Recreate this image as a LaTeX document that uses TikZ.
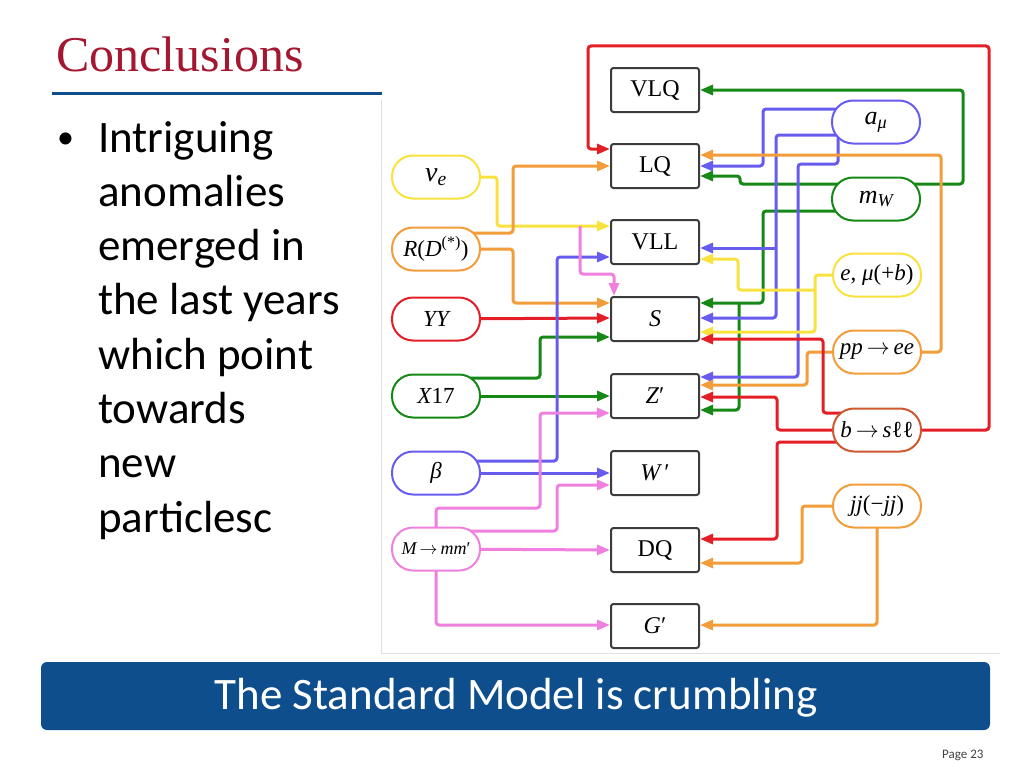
\RequirePackage{fix-cm}
\documentclass[tikz,border=0pt]{standalone}
\usepackage[no-math]{fontspec}
\setmainfont{Carlito}
\newfontfamily\tfont{Liberation Serif}
\newcommand\mi[1]{{\itshape #1}}
\newcommand\arrw{\,$\rightarrow$\,}
\usetikzlibrary{arrows.meta}
\definecolor{titlered}{RGB}{163,24,48}
\definecolor{ulblue}{RGB}{16,76,140}
\definecolor{bannerblue}{RGB}{14,78,140}
\definecolor{boxgray}{RGB}{60,60,60}
\definecolor{cR}{RGB}{228,30,38}
\definecolor{cO}{RGB}{242,156,58}
\definecolor{cY}{RGB}{249,226,62}
\definecolor{cG}{RGB}{22,136,22}
\definecolor{cB}{RGB}{104,92,238}
\definecolor{cP}{RGB}{240,128,222}
\definecolor{cBS}{RGB}{206,88,48}
\pgfdeclarelayer{bg}
\pgfsetlayers{bg,main}
\begin{document}
\begin{tikzpicture}[x=1pt,y=-1pt,
  box/.style={draw=boxgray, line width=2pt, rounded corners=2.5pt, fill=white, minimum width=88pt, minimum height=44pt, inner sep=0pt, font=\tfont\fontsize{24}{24}\selectfont},
  pill/.style={draw=#1, line width=2pt, rounded corners=21pt, fill=white, minimum width=88pt, minimum height=43pt, inner sep=0pt, font=\tfont\fontsize{23}{23}\selectfont},
  wire/.style={draw=#1, line width=3pt, rounded corners=3pt},
  arr/.style={-{Triangle[length=13pt,width=10pt]}},
]
\useasboundingbox (0,0) rectangle (1024,768);

% title and text
\node[anchor=base west, inner sep=0pt, text=titlered, font=\tfont\fontsize{50}{50}\selectfont] (title) at (56,71) {Conclusions};
\draw[ulblue, line width=3pt] (52,93) -- (382,93);
\node[anchor=base west, inner sep=0pt, font=\fontsize{34}{34}\selectfont] (bul) at (57,148) {•};
\foreach \t [count=\i from 0] in {Intriguing, anomalies, emerged in, the last years, which point, towards, new, particlesc}
  \node[anchor=base west, inner sep=0pt, font=\fontsize{45}{45}\selectfont] (b\i) at (98,{152+54.3*\i}) {\t};

% faint frame of the figure
\draw[black!12, line width=1pt] (381,100) -- (381,653) -- (1000,653);

% center boxes
\node[box] (VLQ) at (655,90) {VLQ};
\node[box] (LQ) at (655,166) {LQ};
\node[box] (VLL) at (655,242) {VLL};
\node[box] (S) at (655,319) {\mi{S}};
\node[box] (Zp) at (655,396) {\mi{Z}′};
\node[box] (Wp) at (655,473) {\mi{W}\,′};
\node[box] (DQ) at (655,550) {DQ};
\node[box] (Gp) at (655,626) {\mi{G}′};

% left pills
\node[pill=cY, font=\tfont\fontsize{28}{28}\selectfont] (nue) at (436,177) {\mi{ν}\textsubscript{\mi{e}}};
\node[pill=cO] (RD) at (436,249) {\mi{R}(\mi{D}\textsuperscript{(*)})};
\node[pill=cR] (YY) at (436,319) {\mi{YY}};
\node[pill=cG] (X17) at (436,396) {\mi{X}17};
\node[pill=cB] (beta) at (436,473) {\mi{β}};
\node[pill=cP, font=\tfont\fontsize{18}{18}\selectfont] (Mmm) at (436,549) {\mi{M}\arrw\mi{mm}′};

% right pills
\node[pill=cB, font=\tfont\fontsize{26}{26}\selectfont] (amu) at (876,122) {\mi{a}\textsubscript{\mi{μ}}};
\node[pill=cG, font=\tfont\fontsize{26}{26}\selectfont] (mW) at (876,199) {\mi{m}\textsubscript{\mi{W}}};
\node[pill=cY] (emu) at (877,275) {\mi{e}, \mi{μ}(+\mi{b})};
\node[pill=cO] (ppee) at (877,352) {\mi{pp}\arrw\mi{ee}};
\node[pill=cBS] (bsll) at (877,430) {\mi{b}\arrw\mi{s}ℓℓ};
\node[pill=cO] (jj) at (877,506) {\mi{jj}(−\mi{jj})};

\begin{pgfonlayer}{bg}
% right side sources
\draw[wire=cR, arr] (bsll.center) -- (989,430) -- (989,46) -- (588,46) -- (588,149) -- (LQ.west |- 0,149);
\draw[wire=cG, arr] (mW.center |- 0,184) -- (963,184) -- (963,90) -- (VLQ.east);
\draw[wire=cG, arr] (mW.center |- 0,184) -- (740,184) -- (740,176) -- (LQ.east |- 0,176);
\draw[wire=cG, arr] (mW.center |- 0,211) -- (763,211) -- (763,303) -- (S.east |- 0,303);
\coordinate (gj) at (739,303);
\draw[wire=cG, arr] (gj) -- (739,410) -- (Zp.east |- 0,410);
\draw[wire=cB, arr] (amu.center |- 0,109) -- (763,109) -- (763,166) -- (LQ.east |- 0,166);
\draw[wire=cB, arr] (amu.center |- 0,135) -- (776,135) -- (776,318) -- (S.east |- 0,318);
\coordinate (bj) at (776,248);
\draw[wire=cB, arr] (bj) -- (VLL.east |- 0,248);
\draw[wire=cB, arr] (amu.center -| 838,0) -- (838,164) -- (798,164) -- (798,377) -- (Zp.east |- 0,377);
\draw[wire=cO, arr] (ppee.center) -- (941,352) -- (941,155) -- (LQ.east |- 0,155);
\draw[wire=cO, arr] (ppee.center) -- (807,352) -- (807,385) -- (Zp.east |- 0,385);
\draw[wire=cY, arr] (emu.center) -- (815,275) -- (815,332) -- (S.east |- 0,332);
\coordinate (yj) at (815,290);
\draw[wire=cY, arr] (yj) -- (738,290) -- (738,259) -- (VLL.east |- 0,259);
\draw[wire=cR, arr] (bsll.center |- 0,413) -- (823,413) -- (823,339) -- (S.east |- 0,339);
\draw[wire=cR, arr] (bsll.center) -- (777,430) -- (777,397) -- (Zp.east |- 0,397);
\draw[wire=cR, arr] (bsll.center |- 0,442) -- (777,442) -- (777,539) -- (DQ.east |- 0,539);
\draw[wire=cO, arr] (jj.center) -- (802,506) -- (802,563) -- (DQ.east |- 0,563);
\draw[wire=cO, arr] (jj.center) -- (877,625) -- (Gp.east |- 0,625);
% left side sources
\draw[wire=cY, arr] (nue.center) -- (497,177) -- (497,226) -- (VLL.west |- 0,226);
\draw[wire=cO, arr] (RD.center |- 0,233) -- (513,233) -- (513,166) -- (LQ.west |- 0,166);
\draw[wire=cO, arr] (RD.center) -- (513,249) -- (513,303) -- (S.west |- 0,303);
\draw[wire=cR, arr] (YY.center) -- (S.west |- 0,318);
\draw[wire=cG, arr] (X17.center |- 0,378) -- (540,378) -- (540,337) -- (S.west |- 0,337);
\draw[wire=cG, arr] (X17.center) -- (Zp.west);
\draw[wire=cB, arr] (beta.center |- 0,461) -- (557,461) -- (557,257) -- (VLL.west |- 0,257);
\draw[wire=cB, arr] (beta.center) -- (Wp.west);
\draw[wire=cP, arr] (Mmm.center) -- (436,508) -- (540,508) -- (540,413) -- (Zp.west |- 0,413);
\draw[wire=cP, arr] (Mmm.center |- 0,531) -- (557,531) -- (557,485) -- (Wp.west |- 0,485);
\draw[wire=cP, arr] (Mmm.center) -- (DQ.west);
\draw[wire=cP, arr] (Mmm.center) -- (436,625) -- (Gp.west |- 0,625);
\coordinate (pj) at (580,226);
\draw[wire=cP, arr] (pj) -- (580,274) -- (614,274) -- (S.north -| 614,0);
\end{pgfonlayer}

% banner
\fill[bannerblue, rounded corners=6pt] (41,662) rectangle (990,730);
\node[anchor=base, inner sep=0pt, text=white, font=\fontsize{45}{45}\selectfont] (ban) at (516,709) {The Standard Model is crumbling};
\node[anchor=base west, inner sep=0pt, text=black!75, font=\fontsize{13}{13}\selectfont] (page) at (942,758) {Page 23};
\end{tikzpicture}
\end{document}
